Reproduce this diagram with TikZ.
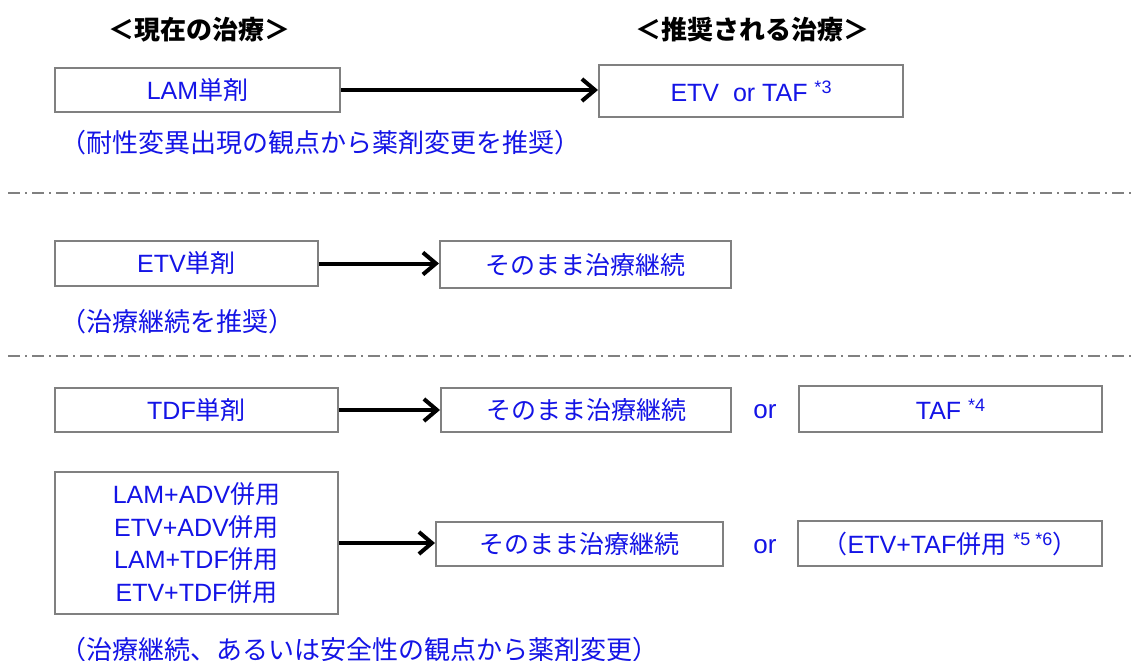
\documentclass[tikz,border=0pt]{standalone}
\usepackage{fontspec}
\setmainfont{Liberation Sans}
\newfontfamily\jp{Noto Sans CJK JP}
\usetikzlibrary{arrows.meta}
\definecolor{txtblue}{RGB}{20,20,230}
\definecolor{boxgray}{RGB}{128,128,128}
\tikzset{
 box/.style={draw=boxgray, line width=2pt, rectangle, text=txtblue, font=\fontsize{25}{32.5}\selectfont, inner sep=0pt, align=center},
 arr/.style={-{Straight Barb[length=13pt,width=22pt]}, line width=4pt, black},
 sepline/.style={draw=boxgray, line width=2.5pt, dash pattern=on 12pt off 5pt on 2pt off 5pt},
 note/.style={text=txtblue, font=\jp\fontsize{26}{30}\selectfont, anchor=west, inner sep=0pt},
 head/.style={font=\jp\bfseries\fontsize{26}{30}\selectfont, inner sep=0pt},
 ortext/.style={text=txtblue, font=\fontsize{26}{30}\selectfont, inner sep=0pt},
}
\newcommand{\sx}[1]{\raisebox{8pt}{\fontsize{18}{18}\selectfont #1}}
\begin{document}
\begin{tikzpicture}[x=1pt,y=-1pt]
\useasboundingbox[fill=white] (0,0) rectangle (1132,661);
% headers
\node[head] (h1) at (199,30) {＜現在の治療＞};
\node[head] (h2) at (752,30) {＜推奨される治療＞};
% row 1
\node[box, minimum width=285pt, minimum height=44pt] (lam) at (197.5,90) {LAM{\jp 単剤}};
\node[box, minimum width=304pt, minimum height=52pt] (etvtaf) at (751,91) {ETV\ \ or TAF \sx{*3}};
\draw[arr] (lam.east) -- (lam.east -| etvtaf.west);
\node[note] (n1) at (60,143) {（耐性変異出現の観点から薬剤変更を推奨）};
\coordinate (s1a) at (8,193);
\coordinate (s1b) at (1132,193);
\draw[sepline] (s1a) -- (s1b);
% row 2
\node[box, minimum width=263pt, minimum height=45pt] (etv) at (186.5,263.5) {ETV{\jp 単剤}};
\node[box, minimum width=291pt, minimum height=47pt] (cont1) at (585.5,264.5) {\jp そのまま治療継続};
\draw[arr] (etv.east) -- (etv.east -| cont1.west);
\node[note] (n2) at (60,322) {（治療継続を推奨）};
\coordinate (s2a) at (8,356);
\coordinate (s2b) at (1132,356);
\draw[sepline] (s2a) -- (s2b);
% row 3
\node[box, minimum width=283pt, minimum height=44pt] (tdf) at (196.5,410) {TDF{\jp 単剤}};
\node[box, minimum width=290pt, minimum height=44pt] (cont2) at (586,410) {\jp そのまま治療継続};
\draw[arr] (tdf.east) -- (tdf.east -| cont2.west);
\node[ortext] (or1) at (765,412) {or};
\node[box, minimum width=303pt, minimum height=46pt] (taf) at (950.5,409) {TAF \sx{*4}};
% row 4
\node[box, minimum width=283pt, minimum height=142pt] (combo) at (196.5,543) {LAM+ADV{\jp 併用}\\ETV+ADV{\jp 併用}\\LAM+TDF{\jp 併用}\\ETV+TDF{\jp 併用}};
\node[box, minimum width=287pt, minimum height=44pt] (cont3) at (579.5,544) {\jp そのまま治療継続};
\draw[arr] (combo.east) -- (combo.east -| cont3.west);
\node[ortext] (or2) at (765,547) {or};
\node[box, minimum width=304pt, minimum height=45pt] (etvtaf2) at (950,543.5) {{\jp （}ETV+TAF{\jp 併用} \sx{*5 *6}{\jp ）}};
\node[note] (n3) at (60,650) {（治療継続、あるいは安全性の観点から薬剤変更）};
\end{tikzpicture}
\end{document}
